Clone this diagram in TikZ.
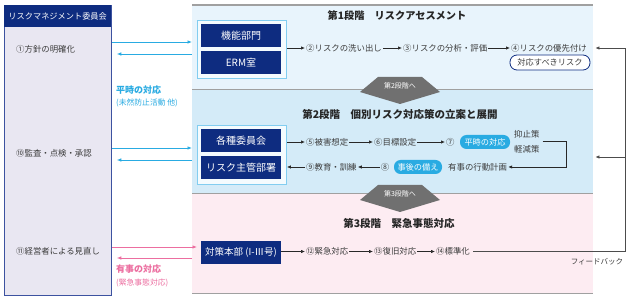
\documentclass[tikz,border=0pt]{standalone}
\usepackage{fontspec}
\setmainfont{Noto Sans CJK JP}
\usetikzlibrary{arrows.meta,calc}
\definecolor{navy}{RGB}{14,44,128}
\definecolor{lfill}{RGB}{233,231,242}
\definecolor{lborder}{RGB}{60,82,160}
\definecolor{sonefill}{RGB}{232,244,252}
\definecolor{stwofill}{RGB}{212,235,248}
\definecolor{sthreefill}{RGB}{253,236,242}
\definecolor{sepgrey}{RGB}{160,160,160}
\definecolor{badgegrey}{RGB}{112,112,112}
\definecolor{cyanc}{RGB}{41,171,226}
\definecolor{pinkc}{RGB}{236,110,160}
\definecolor{txtgrey}{RGB}{60,60,60}
\definecolor{grpline}{RGB}{130,205,240}
\definecolor{grpfill}{RGB}{244,251,254}
\definecolor{arrowgrey}{RGB}{40,40,40}
\begin{document}
\begin{tikzpicture}[x=1pt,y=-1pt,
  rtxt/.style={inner sep=1pt, text=txtgrey, font=\fontsize{8.4}{9}\selectfont},
  ltxt/.style={inner sep=1pt, text=txtgrey, anchor=west, font=\fontsize{8.4}{9}\selectfont},
  titletxt/.style={inner sep=1pt, text=black!85, font=\fontsize{10.5}{12}\selectfont\bfseries},
  navybox/.style={fill=navy, text=white, minimum width=80pt, minimum height=23pt, inner sep=0pt, font=\fontsize{10}{12}\selectfont},
  grpbox/.style={draw=grpline, line width=0.9pt, fill=grpfill, minimum width=89pt, inner sep=0pt, anchor=north west},
  stagepanel/.style={minimum width=401pt, inner sep=0pt, anchor=north west, draw=none},
  sepline/.style={draw=sepgrey, line width=1.2pt},
  flow/.style={-{Latex[length=4pt,width=3.4pt]}, line width=0.7pt, draw=arrowgrey},
  carrow/.style={-{Latex[length=4.5pt,width=3.6pt]}, line width=0.8pt, draw=cyanc},
  parrow/.style={-{Latex[length=4.5pt,width=3.6pt]}, line width=0.8pt, draw=pinkc},
  cpill/.style={fill=cyanc, text=white, rounded corners=6.5pt, minimum width=50pt, minimum height=14pt, inner sep=1pt, font=\fontsize{8.2}{9}\selectfont},
  wpill/.style={draw=navy, line width=0.8pt, fill=white, text=txtgrey, rounded corners=7pt, minimum width=80pt, minimum height=15pt, inner sep=1pt, font=\fontsize{8.2}{9}\selectfont},
  badge/.style={fill=badgegrey},
  badgetxt/.style={text=white, inner sep=0pt, font=\fontsize{7}{8}\selectfont},
  fb/.style={line width=0.8pt, draw=black!70}]
\useasboundingbox (0,0) rectangle (630,299);
\fill[white] (0,0) rectangle (630,299);

% left panel
\node[draw=lborder, line width=0.8pt, fill=lfill, anchor=north west, minimum width=107pt, minimum height=290pt, inner sep=0pt] (lp) at (4,5) {};
\node[fill=navy, text=white, anchor=north west, minimum width=107pt, minimum height=22pt, inner sep=0pt, font=\fontsize{8.2}{9}\selectfont] (lh) at (4,5) {リスクマネジメント委員会};
\node[ltxt] (l1) at (15,49) {①方針の明確化};
\node[ltxt] (l10) at (15,153) {⑩監査・点検・承認};
\node[ltxt] (l11) at (15,251) {⑪経営者による見直し};

% stage panels
\node[stagepanel, fill=sonefill, minimum height=84pt] (s1) at (192,5) {};
\node[stagepanel, fill=stwofill, minimum height=104pt] (s2) at (192,89) {};
\node[stagepanel, fill=sthreefill, minimum height=100pt] (s3) at (192,193) {};
\draw[sepline] (s1.north west) -- (s1.north east);
\draw[sepline] (s1.south west) -- (s1.south east);
\draw[sepline] (s2.south west) -- (s2.south east);
\draw[sepline] (s3.south west) -- (s3.south east);

% badges
\fill[badge] (378,77) -- (422,77) -- (440,92) -- (400,104) -- (360,92) -- cycle;
\node[badgetxt] (bd2) at (400,86) {第2段階へ};
\fill[badge] (378,185) -- (422,185) -- (440,200) -- (400,212) -- (360,200) -- cycle;
\node[badgetxt] (bd3) at (400,194) {第3段階へ};

% left side texts
\node[inner sep=0pt, anchor=west, text=cyanc, font=\fontsize{9}{10}\selectfont\bfseries] (hj) at (116,90) {平時の対応};
\node[inner sep=0pt, anchor=west, text=cyanc, font=\fontsize{7.8}{9}\selectfont] (hj2) at (116,103) {(未然防止活動 他)};
\node[inner sep=0pt, anchor=west, text=pinkc, font=\fontsize{9}{10}\selectfont\bfseries] (yj) at (116,269) {有事の対応};
\node[inner sep=0pt, anchor=west, text=pinkc, font=\fontsize{7.8}{9}\selectfont] (yj2) at (116,283) {(緊急事態対応)};

% connectors left panel <-> stages
\draw[carrow] (lp.east |- 0,42) -- (s1.west |- 0,42);
\draw[carrow] (s1.west |- 0,54) -- ([xshift=5pt]lp.east |- 0,54);
\draw[carrow] (lp.east |- 0,148) -- (s2.west |- 0,148);
\draw[carrow] (s2.west |- 0,160) -- ([xshift=5pt]lp.east |- 0,160);
\draw[parrow] (lp.east |- 0,247) -- ([xshift=5pt]s3.west |- 0,247);
\draw[parrow] (s3.west |- 0,258) -- ([xshift=5pt]lp.east |- 0,258);

% stage 1
\node[titletxt, font=\fontsize{10.2}{12}\selectfont\bfseries] (t1) at (397,16) {第1段階　リスクアセスメント};
\node[grpbox, minimum height=58pt] (g1) at (197,20) {};
\node[navybox] (b1) at (241,35.5) {機能部門};
\node[navybox] (b2) at (241,62.5) {ERM室};
\node[rtxt, anchor=west] (n2) at (305,48) {②リスクの洗い出し};
\node[rtxt, anchor=west] (n3) at (402,48) {③リスクの分析・評価};
\node[rtxt, anchor=west] (n4) at (510,48) {④リスクの優先付け};
\node[wpill] (pw) at (550,62.5) {対応すべきリスク};
\draw[flow] (g1.east |- n2) -- (n2);
\draw[flow] (n2) -- (n3);
\draw[flow] (n3) -- (n4);

% stage 2
\node[titletxt] (t2) at (400,114) {第2段階　個別リスク対応策の立案と展開};
\node[grpbox, minimum height=59pt] (g2) at (197,125) {};
\node[navybox] (b3) at (241,140.5) {各種委員会};
\node[navybox] (b4) at (241,168) {リスク主管部署};
\node[rtxt, anchor=west] (n5) at (305,142) {⑤被害想定};
\node[rtxt, anchor=west] (n6) at (373,142) {⑥目標設定};
\node[rtxt, anchor=west] (n7) at (445,142) {⑦};
\node[cpill] (p1) at (485,142) {平時の対応};
\node[rtxt, anchor=west] (n7a) at (513,134.5) {抑止策};
\node[rtxt, anchor=west] (n7b) at (513,149) {軽減策};
\node[rtxt, anchor=west] (n8c) at (447,167) {有事の行動計画};
\node[cpill, minimum width=48pt] (p2) at (418,167) {事後の備え};
\node[rtxt] (n8) at (385,167) {⑧};
\node[rtxt, anchor=west] (n9) at (305,167) {⑨教育・訓練};
\coordinate (br) at (566,141);
\draw[flow] (g2.east |- n5) -- (n5);
\draw[flow] (n5) -- (n6);
\draw[flow] (n6) -- (n7);
\draw[flow] ([xshift=2pt]n7a.east |- br) -- (br) -- (br |- n8c) -- (n8c.east);
\draw[flow] (n8) -- (n9);
\draw[flow] (n9) -- (g2.east |- n9);

% stage 3
\node[titletxt] (t3) at (399,223) {第3段階　緊急事態対応};
\node[navybox, font=\fontsize{9.5}{11}\selectfont] (b5) at (241,252.5) {対策本部 (I-Ⅲ号)};
\node[rtxt, anchor=west] (n12) at (305,251.5) {⑫緊急対応};
\node[rtxt, anchor=west] (n13) at (373,251.5) {⑬復旧対応};
\node[rtxt, anchor=west] (n14) at (435,251.5) {⑭標準化};
\draw[flow] (b5.east |- n12) -- (n12);
\draw[flow] (n12) -- (n13);
\draw[flow] (n13) -- (n14);

% feedback
\coordinate (fbc) at (625,251.5);
\coordinate (fbt) at (625,48);
\draw[fb] ([xshift=2pt]n14.east) -- (fbc) -- (fbt);
\draw[flow, draw=black!70] (fbt) -- ([xshift=2pt]s1.east |- fbt);
\draw[flow, draw=black!70] (fbc |- 0,157) -- ([xshift=2pt]s2.east |- 0,157);
\node[rtxt, font=\fontsize{7.5}{8}\selectfont] (fbl) at (597,262) {フィードバック};
\end{tikzpicture}
\end{document}
